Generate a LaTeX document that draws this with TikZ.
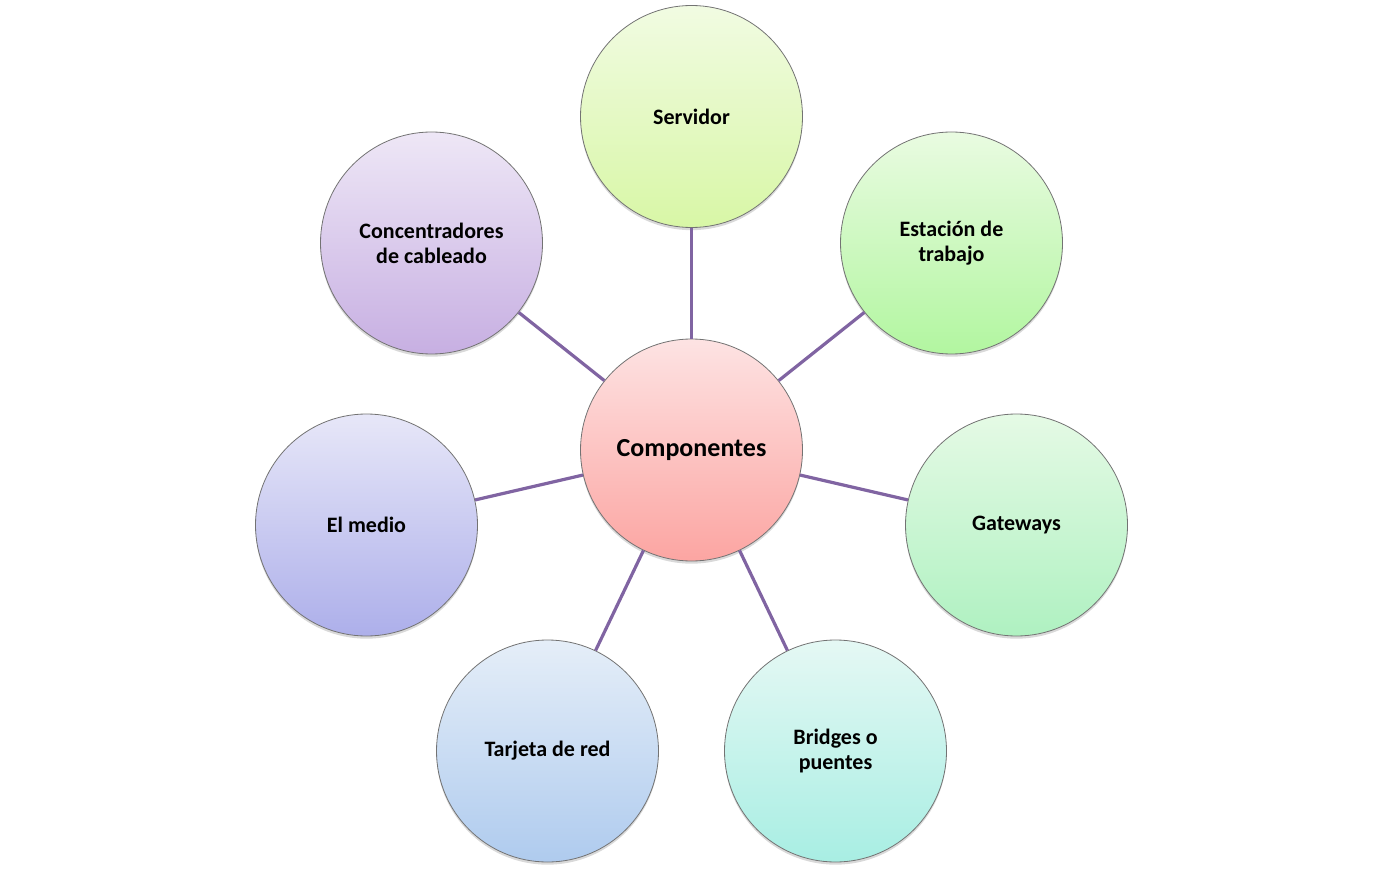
\documentclass[tikz,border=0pt]{standalone}
\usepackage{fontspec}
\setmainfont{Carlito}
\usetikzlibrary{shadows,shadings}
\begin{document}
\begin{tikzpicture}[x=0.75pt,y=-0.75pt,
  bubble/.style={circle,minimum size=166.5pt,inner sep=0pt,draw=black!55,line width=0.6pt,
    align=center,font=\bfseries\fontsize{16.5}{18.75}\selectfont,text=black,
    drop shadow={shadow xshift=0pt,shadow yshift=-2pt,opacity=0.25,fill=black!60}},
  link/.style={draw={rgb,255:red,128;green,100;blue,162},line width=2.4pt}]
\useasboundingbox (0,0) rectangle (1384,873);
\definecolor{servT}{HTML}{F1FBE2}\definecolor{servB}{HTML}{D8F7A6}
\definecolor{compT}{HTML}{FDE3E3}\definecolor{compB}{HTML}{FCA5A2}
\definecolor{estT}{HTML}{E9FBE1}\definecolor{estB}{HTML}{B2F6A0}
\definecolor{gateT}{HTML}{E5FAE5}\definecolor{gateB}{HTML}{AFF1C1}
\definecolor{bridT}{HTML}{E5F8F4}\definecolor{bridB}{HTML}{A8EEE3}
\definecolor{tarjT}{HTML}{E5EEF8}\definecolor{tarjB}{HTML}{AFCBEE}
\definecolor{medT}{HTML}{E7E7F8}\definecolor{medB}{HTML}{ADAFEA}
\definecolor{conT}{HTML}{EEE7F6}\definecolor{conB}{HTML}{C7AFE2}
\node[bubble,top color=servT,bottom color=servB] (serv) at (691.5,116.5) {Servidor};
\node[bubble,top color=estT,bottom color=estB] (est) at (951.5,243) {Estación de\\trabajo};
\node[bubble,top color=gateT,bottom color=gateB] (gate) at (1016.5,525) {Gateways};
\node[bubble,top color=bridT,bottom color=bridB] (brid) at (835.5,751) {Bridges o\\puentes};
\node[bubble,top color=tarjT,bottom color=tarjB] (tarj) at (547.5,751) {Tarjeta de red};
\node[bubble,top color=medT,bottom color=medB] (med) at (366.5,525) {El medio};
\node[bubble,top color=conT,bottom color=conB] (con) at (431.5,243) {Concentradores\\de cableado};
\node[bubble,top color=compT,bottom color=compB,font=\fontsize{19.5}{23}\selectfont\bfseries] (comp) at (691.5,450) {Componentes};
\foreach \n in {serv,est,gate,brid,tarj,med,con}{
  \path[link] (comp) -- (\n);
}
\end{tikzpicture}
\end{document}
